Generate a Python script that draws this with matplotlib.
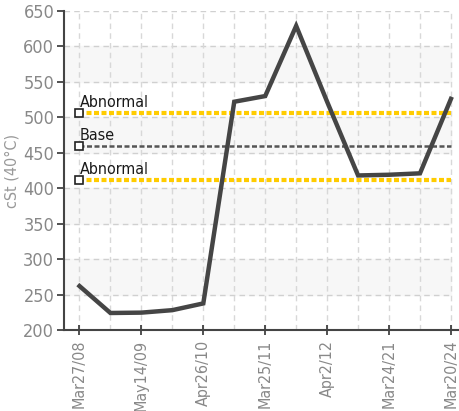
import matplotlib.pyplot as plt
import numpy as np

# valeurs
dates = ["Mar27/08", "", "May14/09", "", "Apr26/10", "", "Mar25/11", "",
         "Apr2/12", "", "Mar24/21", "", "Mar20/24"]
cst = [262, 224, 224.5, 228, 237.5, 522, 530, 629, 522, 418, 419, 421, 526]
limit_names = ["Abnormal", "Base", "Abnormal"]
limit_values = [506, 460, 412]
limit_colors = ["#FFCC00", "#555555", "#FFCC00"]

plt.rcParams["font.family"] = ["DejaVu Sans"]
plt.rcParams["font.stretch"] = "condensed"

fig = plt.figure(figsize=(4.59, 4.11), dpi=100)
ax = fig.add_axes([64 / 459, 81 / 411, 395 / 459, 319 / 411])

x = np.arange(len(cst))
xmax = x[-1]

# bandes grises alternées + grille
for lo in range(250, 650, 100):
    ax.fill_between([-0.5, xmax], lo, lo + 50, color="#f7f7f7", zorder=0)
for yv in range(250, 651, 50):
    ax.plot([-0.5, xmax], [yv, yv], color="#d0d0d0", lw=1, ls=(0, (4, 3)), zorder=1)
for xv in x:
    ax.axvline(xv, color="#d8d8d8", lw=1, ls=(0, (4, 3)), zorder=1)

# lignes de limites
for name, val, col in zip(limit_names, limit_values, limit_colors):
    if name == "Base":
        ax.plot([0, xmax], [val, val], color=col, lw=1.8, ls=(0, (2, 1)), zorder=2)
    else:
        ax.plot([0, xmax], [val, val], color=col, lw=3, ls=(0, (1.2, 0.6)), zorder=2)
    ax.plot(0, val, marker="s", ms=5.5, mfc="white", mec="#222222", mew=1.2, zorder=4)
    ax.text(0, val + 4, name, fontsize=11.5, color="#1a1a1a", va="bottom", ha="left")

ax.plot(x, cst, color="#454545", lw=3.2, zorder=3, solid_joinstyle="miter")

ax.set_xlim(-0.5, 12.26)
ax.set_ylim(200, 650)
ax.set_yticks(range(200, 651, 50))
ax.set_xticks(x[::2])
ax.set_xticklabels(dates[::2], rotation=90)
ax.tick_params(axis="y", colors="#333333", labelcolor="#888888", labelsize=13,
               direction="out", length=5, width=1.2, pad=2)
ax.tick_params(axis="x", colors="#333333", labelcolor="#888888", labelsize=11.5,
               direction="inout", length=7, width=1.2)
ax.set_ylabel("cSt (40°C)", color="#999999", fontsize=11.5, labelpad=3)

for s in ["top", "right"]:
    ax.spines[s].set_visible(False)
ax.spines["left"].set_color("#444444")
ax.spines["bottom"].set_color("#444444")
ax.spines["left"].set_linewidth(1.5)
ax.spines["bottom"].set_linewidth(1.5)

fig.savefig("out.png", dpi=100)
